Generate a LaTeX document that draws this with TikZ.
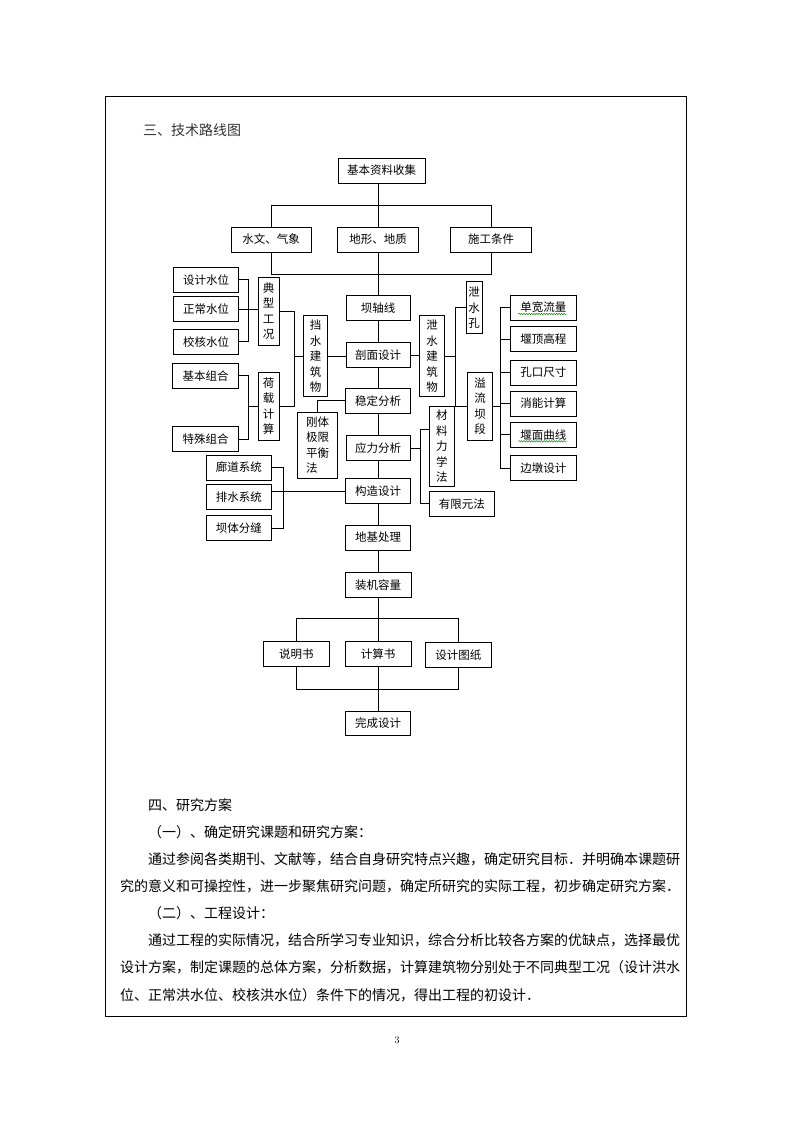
\documentclass[tikz,border=0pt]{standalone}
\usepackage{fontspec}
\newfontfamily\cjk{Noto Sans CJK SC}
\usetikzlibrary{positioning, decorations.pathmorphing}
\newcommand{\boxfont}{\cjk\fontsize{11.5}{15.5}\selectfont} % text inside the boxes
\newcommand{\bodyfont}{\cjk\fontsize{14}{16}\selectfont} % page text
\tikzset{
  box/.style={draw, line width=0.9pt, inner sep=0pt, font=\boxfont},
  hbox/.style={box, minimum width=#1pt, minimum height=25pt},
  vbox/.style 2 args={box, minimum width=#1pt, minimum height=#2pt, align=center},
  link/.style={line width=0.9pt},
  para/.style={anchor=west, inner sep=0pt, font=\bodyfont},
  squiggle/.style={green!55!black, line width=0.5pt, decorate,
    decoration={snake, amplitude=0.7pt, segment length=2.5pt}},
}

\begin{document}
\begin{tikzpicture}[x=1pt, y=-1pt]
\useasboundingbox (0,0) rectangle (793,1122);

% Page frame
\draw[line width=0.9pt] (105.5,96.5) rectangle (686,1016.5);

% Heading
\node[para, text=black!80] (title) at (143,130) {三、技术路线图};

% Top level: collection and the three kinds of data
\node[hbox=87] (collect) at (381.5,170.5) {基本资料收集};
\node[hbox=80] (hydro) at (271,239.5) {水文、气象};
\node[hbox=81] (geo) at (378,239.5) {地形、地质};
\node[hbox=81] (site) at (491,239.5) {施工条件};
\draw[link] (geo.north |- collect.south) -- (geo.north);
\draw[link] (hydro.north) -- ++(0,-21.5) -| (site.north);
\draw[link] (hydro.south) -- ++(0,21.5) -| (site.south);

% Centre column
\node[hbox=64] (axis) at (378,308) {坝轴线};
\node[hbox=64] (section) at (378,355.3) {剖面设计};
\node[hbox=65] (stab) at (378,400.8) {稳定分析};
\node[hbox=64] (stress) at (378,448) {应力分析};
\node[hbox=65] (struct) at (378,491.2) {构造设计};
\node[hbox=65] (found) at (378,537.5) {地基处理};
\node[hbox=66] (capac) at (378,584.8) {装机容量};
\node[hbox=66] (calcbk) at (378,654) {计算书};
\node[hbox=65,minimum height=24pt] (finish) at (378,723.3) {完成设计};
\foreach \a/\b in {geo/axis, axis/section, section/stab, stab/stress, stress/struct,
                   struct/found, found/capac, capac/calcbk, calcbk/finish}
{
    \draw[link] (\a.south) -- (\b.north);
}

% Output documents
\node[hbox=66] (manual) at (296.3,654) {说明书};
\node[hbox=66] (drawings) at (458.3,654.8) {设计图纸};
\draw[link] (manual.north) -- ++(0,-22.4) -| (drawings.north);
\draw[link] (manual.south) -- ++(0,22.3) -| (drawings.south);

% Water levels (left)
\foreach \name/\txt/\y in {dwl/设计水位/279.8, nwl/正常水位/309.3, cwl/校核水位/341.8}
{
    \node[hbox=65.4] (\name) at (206,\y) {\txt};
}
\node[vbox={21}{68}] (typical) at (268.7,311.2) {典\\型\\工\\况};
\draw[link] (dwl.east) -- ++(9.6,0) coordinate (wl) |- (cwl.east);
\draw[link] (nwl.east) -- (nwl.east -| typical.west);

% Load combinations (left)
\node[hbox=65.4] (basic) at (205.5,375.8) {基本组合};
\node[hbox=65.4] (special) at (205.5,439.3) {特殊组合};
\node[vbox={21}{68}] (load) at (268.7,406.2) {荷\\载\\计\\算};
\draw[link] (basic.east) -- ++(9.5,0) coordinate (lc) |- (special.east);
\draw[link] (load.west) -- (load.west -| lc);

% Retaining structure
\node[vbox={24.4}{81}] (retain) at (315.5,356.2) {挡\\水\\建\\筑\\物};
\draw[link] (typical.east) -- ++(14.3,0) coordinate (tl) |- (load.east);
\draw[link] (retain.west) -- (retain.west -| tl);
\draw[link] (retain.east) -- (retain.east -| section.west);

% Stability method
\node[box, minimum width=40.4pt, minimum height=66pt, align=left] (rigid) at (317.5,445) {刚体\\极限\\平衡\\法};
\draw[link] (stab.west) -| (rigid.north);

% Discharge structures (right)
\node[vbox={25.7}{81}] (discharge) at (432,356.2) {泄\\水\\建\\筑\\物};
\node[vbox={16}{52}] (outlet) at (474.2,307.8) {泄\\水\\孔};
\node[vbox={25}{68}] (spill) at (480.2,406.2) {溢\\流\\坝\\段};
\draw[link] (section.east) -- (section.east -| discharge.west);
\draw[link] (discharge.east) -- ++(10,0) coordinate (dc);
\draw[link] (outlet.west) -| (dc) |- (spill.west);

% Spillway items
\foreach \name/\txt/\y in {flow/单宽流量/307.5, crest/堰顶高程/339.2, orifice/孔口尺寸/372.5,
                           energy/消能计算/403.5, curve/堰面曲线/434.8, pier/边墩设计/468.2}
{
    \node[hbox=66.7] (\name) at (543.3,\y) {\txt};
}
\draw[link] (flow.west) -- ++(-9.3,0) coordinate (rt) |- (pier.west);
\foreach \name in {crest, orifice, energy, curve}
{
    \draw[link] (\name.west) -- (\name.west -| rt);
}
\draw[link] (spill.east) -- (spill.east -| rt);
\draw[squiggle] ([xshift=-25pt,yshift=-6.5pt]flow.center) -- ++(48,0);
\draw[squiggle] ([xshift=-25pt,yshift=-6.5pt]curve.center) -- ++(48,0);

% Stress methods
\node[vbox={25}{79.3}] (material) at (441.8,446.3) {材\\料\\力\\学\\法};
\node[hbox=65] (fem) at (461.8,503.8) {有限元法};
\draw[link] (stress.east) -- ++(9.6,0) coordinate (sc);
\draw[link] ([yshift=17pt]material.west) -| (sc) |- (fem.west);

% Structural details
\foreach \name/\txt/\y in {gallery/廊道系统/467.5, drain/排水系统/496.8, joint/坝体分缝/528.2}
{
    \node[hbox=65.7] (\name) at (238.8,\y) {\txt};
}
\draw[link] (gallery.east) -- ++(11,0) coordinate (gc) |- (joint.east);
\draw[link] (struct.west) -- (struct.west -| drain.east);

% Research plan text
\node[para] (plan) at (148,805) {四、研究方案};
\node[para] (sub1) at (148,832) {（一）、确定研究课题和研究方案：};
\node[para] (p1a) at (148,859) {通过参阅各类期刊、文献等，结合自身研究特点兴趣，确定研究目标．并明确本课题研};
\node[para] (p1b) at (120,886) {究的意义和可操控性，进一步聚焦研究问题，确定所研究的实际工程，初步确定研究方案．};
\node[para] (sub2) at (148,913) {（二）、工程设计：};
\node[para] (p2a) at (148,940) {通过工程的实际情况，结合所学习专业知识，综合分析比较各方案的优缺点，选择最优};
\node[para] (p2b) at (120,967) {设计方案，制定课题的总体方案，分析数据，计算建筑物分别处于不同典型工况（设计洪水};
\node[para] (p2c) at (120,995) {位、正常洪水位、校核洪水位）条件下的情况，得出工程的初设计．};

% Page number
\node[font=\fontsize{10}{12}\selectfont] (pageno) at (397,1040) {3};

\end{tikzpicture}
\end{document}
